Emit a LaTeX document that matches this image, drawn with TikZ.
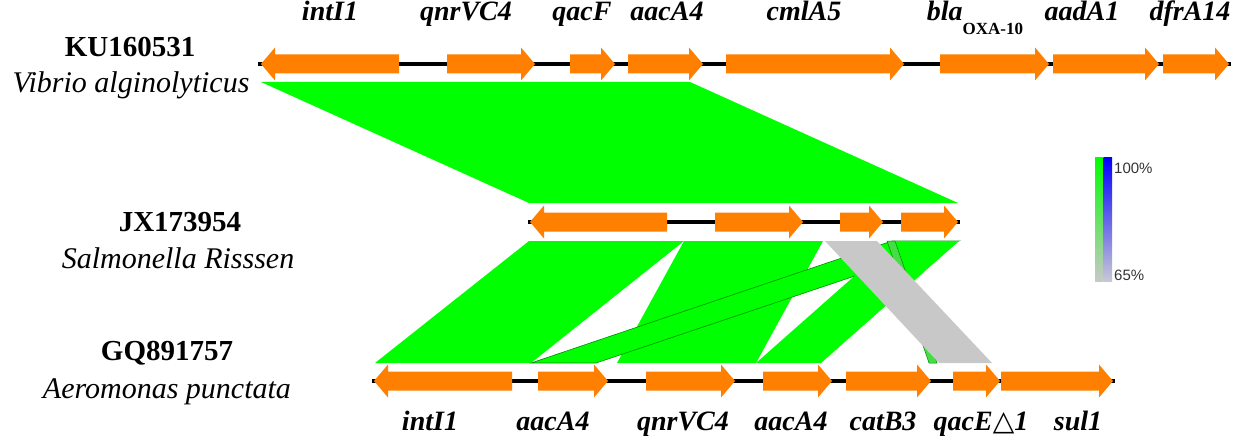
\documentclass[tikz,border=0pt]{standalone}
\usepackage{fontspec}
\setmainfont{Liberation Serif}
\newfontfamily\legendfont{Liberation Sans}
\newfontfamily\symfont{DejaVu Sans}
\definecolor{geneorange}{RGB}{255,128,0}
\definecolor{hitgreen}{RGB}{0,255,0}
\definecolor{hitgrey}{RGB}{200,200,200}
\definecolor{hitpale}{RGB}{70,220,70}
% forward gene: start, tip, track y
\newcommand{\fwdgene}[3]{\fill[geneorange] (#1,#3-9.5) -- (#2-14,#3-9.5) -- (#2-14,#3-16.5) -- (#2,#3) -- (#2-14,#3+16.5) -- (#2-14,#3+9.5) -- (#1,#3+9.5) -- cycle;}
% reverse gene: tip, end, track y
\newcommand{\revgene}[3]{\fill[geneorange] (#2,#3-9.5) -- (#1+14,#3-9.5) -- (#1+14,#3-16.5) -- (#1,#3) -- (#1+14,#3+16.5) -- (#1+14,#3+9.5) -- (#2,#3+9.5) -- cycle;}
\begin{document}
\begin{tikzpicture}[x=1pt, y=-1pt,
    genelab/.style={anchor=base, inner sep=0pt, font=\fontsize{28}{30}\selectfont\bfseries\itshape},
    acc/.style={inner sep=0pt, font=\fontsize{29}{31}\selectfont\bfseries},
    species/.style={inner sep=0pt, font=\fontsize{30}{32}\selectfont\itshape},
    track/.style={line width=4.5pt, black}]
    \useasboundingbox (0,0) rectangle (1246,441);

    % === Blocchi di identita' ===
    \fill[hitgreen] (261,82) -- (690,82) -- (958,203) -- (529,203) -- cycle;
    \fill[hitgreen] (529,241) -- (684,241) -- (531,363) -- (375,363) -- cycle;
    \fill[hitgreen] (684,241) -- (823,241) -- (756,363) -- (617,363) -- cycle;
    \fill[hitgreen, draw=green!55!black, line width=0.6pt] (892,241) -- (959,241) -- (596,363) -- (531,363) -- cycle;
    \fill[hitgreen] (894,241) -- (959,241) -- (821,363) -- (756,363) -- cycle;
    \fill[hitpale, draw=green!55!black, line width=0.5pt] (887,241) -- (895,241) -- (937,363) -- (929,363) -- cycle;
    \fill[hitgrey] (825,241) -- (877,241) -- (992,363) -- (939,363) -- cycle;

    % === TRACK 1: KU160531 ===
    \draw[track] (258,64) -- (1231,64);
    \revgene{261}{399}{64}
    \fwdgene{447}{535}{64}
    \fwdgene{570}{615}{64}
    \fwdgene{628}{703}{64}
    \fwdgene{726}{904}{64}
    \fwdgene{940}{1049}{64}
    \fwdgene{1053}{1159}{64}
    \fwdgene{1163}{1229}{64}
    \node[genelab] (t-int) at (330,21) {intI1};
    \node[genelab] (t-qnr) at (466,21) {qnrVC4};
    \node[genelab] (t-qac) at (582,21) {qacF};
    \node[genelab] (t-aac) at (667,21) {aacA4};
    \node[genelab] (t-cml) at (804,21) {cmlA5};
    \node[genelab] (t-bla) at (975,21) {bla\raisebox{-14pt}{\fontsize{17}{17}\selectfont\upshape OXA-10}};
    \node[genelab] (t-aad) at (1082,21) {aadA1};
    \node[genelab] (t-dfr) at (1190,21) {dfrA14};
    \node[acc] (ku) at (130,47) {KU160531};
    \node[species] (ku-sp) at (131,85) {Vibrio alginolyticus};

    % === TRACK 2: JX173954 ===
    \draw[track] (528,222) -- (960,222);
    \revgene{530}{667}{222}
    \fwdgene{715}{803}{222}
    \fwdgene{840}{883}{222}
    \fwdgene{901}{958}{222}
    \node[acc] (jx) at (180,222) {JX173954};
    \node[species] (jx-sp) at (178,258) {Salmonella Risssen};

    % === TRACK 3: GQ891757 ===
    \draw[track] (372,381) -- (1115,381);
    \revgene{374}{512}{381}
    \fwdgene{538}{608}{381}
    \fwdgene{646}{735}{381}
    \fwdgene{763}{832}{381}
    \fwdgene{846}{931}{381}
    \fwdgene{953}{1000}{381}
    \fwdgene{1001}{1113}{381}
    \node[genelab] (b-int) at (430,430) {intI1};
    \node[genelab] (b-aac1) at (553,430) {aacA4};
    \node[genelab] (b-qnr) at (683,430) {qnrVC4};
    \node[genelab] (b-aac2) at (791,430) {aacA4};
    \node[genelab] (b-cat) at (883,430) {catB3};
    \node[genelab] (b-qace) at (981,430) {qacE{\symfont\mdseries\upshape △}1};
    \node[genelab] (b-sul) at (1078,430) {sul1};
    \node[acc] (gq) at (167,353) {GQ891757};
    \node[species] (gq-sp) at (167,392) {Aeromonas punctata};

    % Legenda
    \shade[top color=hitgreen, bottom color=hitgrey] (1095,157) rectangle (1103.5,281);
    \shade[top color=blue, bottom color={rgb,255:red,200;green,200;blue,212}] (1103.5,157) rectangle (1112,281);
    \node[anchor=west, inner sep=0pt, font=\legendfont\fontsize{15}{16}\selectfont, text=black!80] (l-max) at (1114,168) {100\%};
    \node[anchor=west, inner sep=0pt, font=\legendfont\fontsize{15}{16}\selectfont, text=black!80] (l-min) at (1114,275) {65\%};
\end{tikzpicture}
\end{document}
